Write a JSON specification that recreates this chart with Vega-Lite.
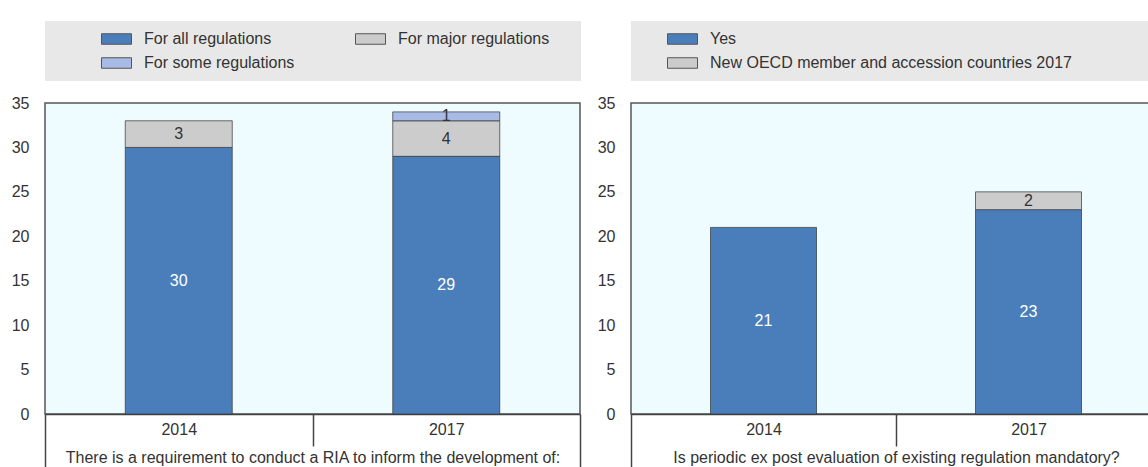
{
  "$schema": "https://vega.github.io/schema/vega-lite/v6.json",
  "padding": {"left": 10, "top": 20, "right": 0, "bottom": 0},
  "background": "white",
  "config": {
    "font": "Liberation Sans, Arial, sans-serif",
    "view": {"fill": "#effcff", "stroke": "#555555", "strokeWidth": 1.5},
    "axis": {"labelFontSize": 16, "labelColor": "#333333", "titleFontSize": 16, "titleColor": "#333333", "titleFontWeight": "normal", "domainColor": "#444444", "tickColor": "#444444", "grid": false},
    "legend": {"labelFontSize": 16, "labelColor": "#333333", "labelLimit": 500, "fillColor": "#e8e8e8", "strokeColor": null, "padding": 10, "rowPadding": 8, "symbolType": "M-2,-0.7H2V0.7H-2Z", "symbolSize": 225, "symbolStrokeColor": "#555555", "symbolStrokeWidth": 1, "symbolOpacity": 1, "labelOffset": 19.5}
  },
  "spacing": 14,
  "resolve": {"scale": {"color": "independent"}, "legend": {"color": "independent"}},
  "hconcat": [
    {
      "width": 535,
      "height": 311,
      "data": {"values": [
        {"year": "2014", "series": "For all regulations", "k": 1, "value": 30},
        {"year": "2014", "series": "For major regulations", "k": 2, "value": 3},
        {"year": "2017", "series": "For all regulations", "k": 1, "value": 29},
        {"year": "2017", "series": "For major regulations", "k": 2, "value": 4},
        {"year": "2017", "series": "For some regulations", "k": 3, "value": 1}
      ]},
      "encoding": {
        "x": {"field": "year", "type": "nominal", "scale": {"paddingInner": 0, "paddingOuter": 0},
          "axis": {"title": "There is a requirement to conduct a RIA to inform the development of:", "labelAngle": 0, "tickBand": "extent",
            "tickSize": {"condition": {"test": "datum.value === '2014' && !datum.extra", "value": 32}, "value": 54},
            "labelPadding": {"condition": {"test": "datum.value === '2014'", "value": -25}, "value": -47},
            "tickWidth": 1.5, "domainWidth": 1.5, "titleY": 48, "titleBaseline": "alphabetic"}},
        "y": {"field": "value", "type": "quantitative", "stack": "zero", "scale": {"domain": [0, 35], "nice": false},
          "axis": {"title": null, "values": [0, 5, 10, 15, 20, 25, 30, 35], "ticks": false, "domain": false, "labelPadding": 16, "labelFontSize": 16}},
        "order": {"field": "k"}
      },
      "layer": [
        {
          "mark": {"type": "bar", "width": {"band": 0.4}, "stroke": "#333333", "strokeWidth": 1, "strokeOpacity": 0.7},
          "encoding": {
            "color": {"field": "series", "type": "nominal",
              "sort": ["For all regulations", "For some regulations", "For major regulations"],
              "scale": {"domain": ["For all regulations", "For some regulations", "For major regulations"], "range": ["#4a7ebb", "#a8bbe6", "#cccccc"]},
              "legend": {"title": "\u00a0", "titleOrient": "right", "titlePadding": 22, "orient": "none", "legendX": 0, "legendY": -82, "columns": 2, "columnPadding": 14, "symbolOffset": 53.5}}
          }
        },
        {
          "mark": {"type": "text", "fontSize": 16},
          "encoding": {
            "y": {"field": "value", "type": "quantitative", "stack": "zero", "bandPosition": 0.5},
            "detail": {"field": "series"},
            "text": {"field": "value", "type": "quantitative"},
            "color": {"condition": {"test": "datum.series === 'For all regulations'", "value": "white"}, "value": "#333333"}
          }
        }
      ]
    },
    {
      "width": 530,
      "height": 311,
      "data": {"values": [
        {"year": "2014", "series": "Yes", "k": 1, "value": 21},
        {"year": "2017", "series": "Yes", "k": 1, "value": 23},
        {"year": "2017", "series": "New OECD member and accession countries 2017", "k": 2, "value": 2}
      ]},
      "encoding": {
        "x": {"field": "year", "type": "nominal", "scale": {"paddingInner": 0, "paddingOuter": 0},
          "axis": {"title": "Is periodic ex post evaluation of existing regulation mandatory?", "labelAngle": 0, "tickBand": "extent",
            "tickSize": {"condition": {"test": "datum.value === '2014' && !datum.extra", "value": 32}, "value": 54},
            "labelPadding": {"condition": {"test": "datum.value === '2014'", "value": -25}, "value": -47},
            "tickWidth": 1.5, "domainWidth": 1.5, "titleY": 48, "titleBaseline": "alphabetic"}},
        "y": {"field": "value", "type": "quantitative", "stack": "zero", "scale": {"domain": [0, 35], "nice": false},
          "axis": {"title": null, "values": [0, 5, 10, 15, 20, 25, 30, 35], "ticks": false, "domain": false, "labelPadding": 16, "labelFontSize": 16}},
        "order": {"field": "k"}
      },
      "layer": [
        {
          "mark": {"type": "bar", "width": {"band": 0.4}, "stroke": "#333333", "strokeWidth": 1, "strokeOpacity": 0.7},
          "encoding": {
            "color": {"field": "series", "type": "nominal",
              "sort": ["Yes", "New OECD member and accession countries 2017"],
              "scale": {"domain": ["Yes", "New OECD member and accession countries 2017"], "range": ["#4a7ebb", "#cccccc"]},
              "legend": {"title": "\u00a0", "titleOrient": "right", "titlePadding": 100, "orient": "none", "legendX": 0, "legendY": -82, "columns": 1, "symbolOffset": 33.5}}
          }
        },
        {
          "mark": {"type": "text", "fontSize": 16},
          "encoding": {
            "y": {"field": "value", "type": "quantitative", "stack": "zero", "bandPosition": 0.5},
            "detail": {"field": "series"},
            "text": {"field": "value", "type": "quantitative"},
            "color": {"condition": {"test": "datum.series === 'Yes'", "value": "white"}, "value": "#333333"}
          }
        }
      ]
    }
  ]
}
